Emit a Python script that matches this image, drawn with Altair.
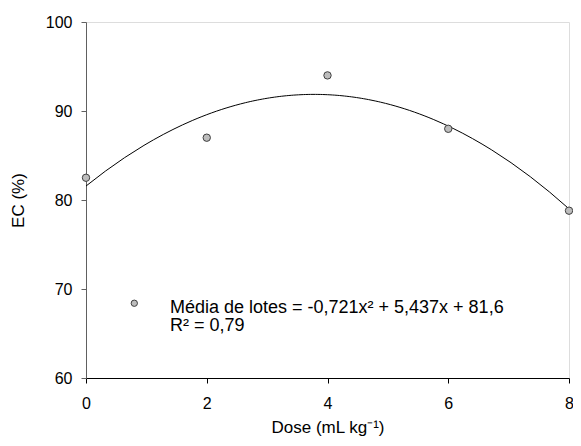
import altair as alt
import pandas as pd

dose = [0, 2, 4, 6, 8]
ec = [82.5, 87.0, 94.0, 88.0, 78.8]

legend_label = "Média de lotes = -0,721x² + 5,437x + 81,6"
r2_label = "R² = 0,79"

df = pd.DataFrame({"dose": dose, "ec": ec})

FONT = "Liberation Sans"

xs = alt.Scale(domain=[0, 8], nice=False, zero=False)
ys = alt.Scale(domain=[60, 100], nice=False, zero=False)

x_enc = alt.X("dose:Q", scale=xs, title="Dose (mL kg⁻¹)",
              axis=alt.Axis(values=[0, 2, 4, 6, 8], format="d", grid=False, domainColor="black",
                            tickColor="black", tickSize=5, labelPadding=12,
                            labelFontSize=16, titleFontSize=17, titleFontWeight="normal",
                            labelFont=FONT, titleFont=FONT, labelColor="black",
                            titleColor="black", titlePadding=8, labelFlush=False))
y_enc = alt.Y("ec:Q", scale=ys, title="EC (%)",
              axis=alt.Axis(values=[60, 70, 80, 90, 100], format="d", grid=False, domainColor="#606060",
                            tickColor="#606060", tickSize=5, labelPadding=9,
                            labelFontSize=16, titleFontSize=17, titleFontWeight="normal",
                            labelFont=FONT, titleFont=FONT, labelColor="black",
                            titleColor="black", titlePadding=18))

base = alt.Chart(df)

curve = base.transform_regression("dose", "ec", method="poly", order=2, extent=[0, 8]).mark_line(
    color="black", strokeWidth=1).encode(x=x_enc, y=y_enc)

pts = base.mark_point(filled=True, fill="#bdbdbd", stroke="#404040", strokeWidth=1,
                      opacity=1, size=55, shape="circle").encode(x=x_enc, y=y_enc)

leg_pt = alt.Chart(pd.DataFrame({"a": [0]})).mark_point(
    filled=True, fill="#bdbdbd", stroke="#404040", strokeWidth=1, opacity=1, size=40,
    shape="circle").encode(x=alt.datum(0.80, scale=xs), y=alt.datum(68.4, scale=ys))

leg_txt = alt.Chart(pd.DataFrame({"t": [legend_label]})).mark_text(
    align="left", baseline="middle", fontSize=18, font=FONT, color="black").encode(
    x=alt.datum(1.39, scale=xs), y=alt.datum(67.9, scale=ys), text="t:N")

r2_txt = alt.Chart(pd.DataFrame({"t": [r2_label]})).mark_text(
    align="left", baseline="middle", fontSize=18, font=FONT, color="black").encode(
    x=alt.datum(1.39, scale=xs), y=alt.datum(65.8, scale=ys), text="t:N")

chart = alt.layer(curve, pts, leg_pt, leg_txt, r2_txt).properties(
    width=483, height=356,
    autosize=alt.AutoSizeParams(type="none"),
    padding={"left": 78, "top": 14, "right": 4, "bottom": 60},
).configure_view(stroke=None).configure(background="white")

chart.save("out.html", embed_options={"renderer": "svg", "actions": False})
